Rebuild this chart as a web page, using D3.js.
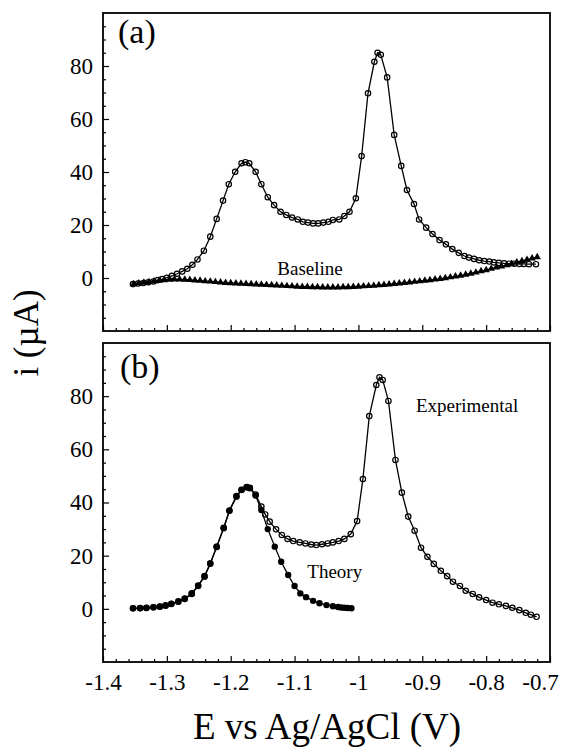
<!DOCTYPE html>
<html>
<head>
<meta charset="utf-8">
<script src="https://cdn.jsdelivr.net/npm/d3@7"></script>
<style>
  html, body { margin: 0; padding: 0; background: #fff; }
  svg { display: block; }
  svg text { font-family: "Liberation Serif", "Times New Roman", Times, serif; fill: #000; }
</style>
</head>
<body>
<svg id="chart" width="572" height="748"></svg>
<script>
// Panel (a): measured voltammogram and baseline
const aExpE = [-1.353,-1.345,-1.337,-1.329,-1.321,-1.314,-1.307,-1.300,-1.292,-1.284,-1.276,-1.268,-1.260,-1.252,-1.242,-1.232,-1.222,-1.212,-1.203,-1.193,-1.183,-1.177,-1.171,-1.161,-1.152,-1.142,-1.132,-1.122,-1.113,-1.104,-1.095,-1.087,-1.079,-1.071,-1.063,-1.055,-1.047,-1.040,-1.030,-1.022,-1.014,-1.004,-0.995,-0.985,-0.975,-0.970,-0.965,-0.955,-0.944,-0.933,-0.924,-0.913,-0.905,-0.894,-0.884,-0.873,-0.863,-0.853,-0.843,-0.834,-0.827,-0.819,-0.811,-0.803,-0.795,-0.788,-0.780,-0.772,-0.764,-0.756,-0.748,-0.741,-0.733,-0.722];
const aExpI = [-2.3,-2.1,-1.9,-1.6,-1.3,-0.8,-0.4,0.1,0.8,1.6,2.5,3.5,5.0,7.0,10.3,15.6,22.3,29.2,35.4,40.1,43.3,43.7,43.3,40.1,35.4,30.5,27.5,25.0,23.8,22.8,22.1,21.2,20.9,20.6,20.6,20.9,21.2,21.9,22.1,23.4,25.0,30.1,46.0,69.7,81.6,85.0,84.2,75.7,54.0,42.3,33.2,27.9,22.1,19.0,16.6,14.3,12.7,10.9,9.5,8.3,7.7,7.2,6.7,6.4,6.2,5.9,5.7,5.5,5.4,5.4,5.3,5.3,5.2,5.2];

const aBaseE = [-1.352,-1.344,-1.336,-1.328,-1.320,-1.312,-1.304,-1.296,-1.288,-1.280,-1.272,-1.264,-1.256,-1.248,-1.240,-1.232,-1.224,-1.216,-1.208,-1.200,-1.192,-1.184,-1.176,-1.168,-1.160,-1.152,-1.144,-1.136,-1.128,-1.120,-1.112,-1.104,-1.096,-1.088,-1.080,-1.072,-1.064,-1.056,-1.048,-1.040,-1.032,-1.024,-1.016,-1.008,-1.000,-0.992,-0.984,-0.976,-0.968,-0.960,-0.952,-0.944,-0.936,-0.928,-0.920,-0.912,-0.904,-0.896,-0.888,-0.880,-0.872,-0.864,-0.856,-0.848,-0.840,-0.832,-0.824,-0.816,-0.808,-0.800,-0.792,-0.784,-0.776,-0.768,-0.760,-0.752,-0.744,-0.736,-0.728,-0.720];
const aBaseI = [-2.3,-2.0,-1.7,-1.5,-1.2,-1.0,-0.8,-0.6,-0.5,-0.5,-0.6,-0.7,-0.9,-1.0,-1.2,-1.3,-1.5,-1.6,-1.8,-1.9,-2.0,-2.1,-2.2,-2.3,-2.4,-2.5,-2.6,-2.7,-2.8,-2.9,-3.0,-3.1,-3.2,-3.3,-3.3,-3.4,-3.4,-3.5,-3.5,-3.5,-3.5,-3.4,-3.4,-3.3,-3.2,-3.1,-3.0,-2.9,-2.7,-2.6,-2.4,-2.2,-2.0,-1.8,-1.6,-1.4,-1.2,-1.0,-0.8,-0.5,-0.3,0.0,0.3,0.6,0.9,1.3,1.7,2.1,2.6,3.0,3.5,4.0,4.4,4.9,5.4,5.9,6.4,6.9,7.4,7.9];

// Panel (b): baseline-corrected experiment and theoretical first peak
const bExpE = [-1.353,-1.342,-1.332,-1.321,-1.311,-1.302,-1.293,-1.282,-1.272,-1.261,-1.251,-1.241,-1.232,-1.222,-1.211,-1.202,-1.191,-1.183,-1.175,-1.170,-1.161,-1.152,-1.146,-1.139,-1.129,-1.120,-1.111,-1.102,-1.092,-1.083,-1.074,-1.066,-1.057,-1.048,-1.040,-1.031,-1.022,-1.012,-1.002,-0.993,-0.983,-0.972,-0.967,-0.962,-0.953,-0.942,-0.932,-0.922,-0.912,-0.902,-0.892,-0.882,-0.871,-0.861,-0.852,-0.841,-0.832,-0.821,-0.811,-0.800,-0.790,-0.780,-0.769,-0.759,-0.748,-0.738,-0.730,-0.721];
const bExpI = [0.2,0.3,0.4,0.6,0.9,1.3,1.9,2.8,3.9,5.8,8.8,12.3,17.0,23.3,30.5,37.0,42.4,44.8,45.8,45.5,43.0,38.5,35.5,32.8,29.9,27.8,26.3,25.5,25.0,24.6,24.2,24.0,24.3,24.6,25.0,25.5,26.3,28.1,33.0,48.8,72.5,84.2,87.1,86.1,78.2,56.0,43.7,34.7,29.4,23.0,19.6,16.9,14.3,12.3,10.2,8.6,6.8,5.6,4.3,3.3,2.3,1.7,1.1,0.4,-0.5,-1.5,-2.2,-3.0];

const bTheoryE = [-1.353,-1.342,-1.332,-1.321,-1.311,-1.302,-1.293,-1.282,-1.272,-1.261,-1.251,-1.241,-1.232,-1.222,-1.211,-1.202,-1.191,-1.183,-1.175,-1.170,-1.161,-1.152,-1.142,-1.131,-1.121,-1.110,-1.100,-1.091,-1.082,-1.071,-1.061,-1.050,-1.040,-1.032,-1.027,-1.022,-1.017,-1.011];
const bTheoryI = [0.2,0.2,0.3,0.6,0.8,1.2,1.8,2.7,3.7,5.6,8.6,12.1,17.1,23.4,30.3,36.9,42.2,44.7,45.7,45.4,42.6,37.2,30.0,23.4,17.7,12.7,8.6,5.8,4.4,3.0,2.1,1.4,1.0,0.7,0.5,0.4,0.3,0.2];

// Axis ticks
const xMajor = [-1.4,-1.3,-1.2,-1.1,-1.0,-0.9,-0.8,-0.7];
const xMinor = [-1.38,-1.36,-1.34,-1.32,-1.28,-1.26,-1.24,-1.22,-1.18,-1.16,-1.14,-1.12,-1.08,-1.06,-1.04,-1.02,-0.98,-0.96,-0.94,-0.92,-0.88,-0.86,-0.84,-0.82,-0.78,-0.76,-0.74,-0.72];
const xTickLabels = ["-1.4","-1.3","-1.2","-1.1","-1","-0.9","-0.8","-0.7"];
const yMajor = [0,20,40,60,80];
const yMinor = [-15,-10,-5,5,10,15,25,30,35,45,50,55,65,70,75,85,90,95];

const svg = d3.select("#chart");
const x = d3.scaleLinear().domain([-1.4, -0.7]).range([103, 550]);

const panels = [
  { tag: "(a)", top: 13, bottom: 331, showX: false, tagX: 118, tagY: 43 },
  { tag: "(b)", top: 343, bottom: 662, showX: true, tagX: 120, tagY: 378 }
];
panels.forEach(p => {
  p.y = d3.scaleLinear().domain([-20, 100]).range([p.bottom, p.top]);
});

const pts = (E, I) => E.map((e, i) => [e, I[i]]);

function styleAxis(sel) {
  sel.attr("font-family", null).attr("font-size", null);
  sel.select(".domain").remove();
  sel.selectAll(".tick line").attr("stroke", "#000").attr("stroke-width", 1.2);
  sel.selectAll(".tick text").style("font-size", "23px");
}

function drawAxes(p) {
  const g = svg.append("g");
  const y = p.y;
  const x0 = x.range()[0];
  // left axis, ticks pointing inward
  g.append("g").attr("transform", `translate(${x0},0)`)
    .call(d3.axisLeft(y).tickValues(yMajor).tickSize(-6).tickPadding(10).tickFormat(d3.format("d")))
    .call(styleAxis);
  g.append("g").attr("transform", `translate(${x0},0)`)
    .call(d3.axisLeft(y).tickValues(yMinor).tickSize(-3).tickFormat(""))
    .call(styleAxis);
  // bottom axis
  const xb = g.append("g").attr("transform", `translate(0,${p.bottom})`)
    .call(d3.axisBottom(x).tickValues(xMajor).tickSize(-6).tickPadding(12)
      .tickFormat((d, i) => p.showX ? xTickLabels[i] : ""))
    .call(styleAxis);
  g.append("g").attr("transform", `translate(0,${p.bottom})`)
    .call(d3.axisBottom(x).tickValues(xMinor).tickSize(-3).tickFormat(""))
    .call(styleAxis);
  xb.selectAll(".tick text").filter(d => d === -0.7).attr("dx", "-10");
  // frame
  g.append("rect")
    .attr("x", x0).attr("y", p.top)
    .attr("width", x.range()[1] - x0).attr("height", p.bottom - p.top)
    .attr("fill", "none").attr("stroke", "#000").attr("stroke-width", 1.8);
  // panel tag
  g.append("text").attr("x", p.tagX).attr("y", p.tagY)
    .style("font-size", "34px").text(p.tag);
}

function drawSeries(p, data, marker) {
  const y = p.y;
  const line = d3.line().x(d => x(d[0])).y(d => y(d[1]));
  const g = svg.append("g");
  g.append("path").datum(data).attr("d", line)
    .attr("fill", "none").attr("stroke", "#000").attr("stroke-width", 1.3);
  if (marker === "open") {
    g.selectAll("circle").data(data).join("circle")
      .attr("cx", d => x(d[0])).attr("cy", d => y(d[1])).attr("r", 2.7)
      .attr("fill", "none").attr("stroke", "#000").attr("stroke-width", 1.2);
  } else if (marker === "filled") {
    g.selectAll("circle").data(data).join("circle")
      .attr("cx", d => x(d[0])).attr("cy", d => y(d[1])).attr("r", 3.2)
      .attr("fill", "#000");
  } else if (marker === "triangle") {
    const tri = d3.symbol().type(d3.symbolTriangle).size(24);
    g.selectAll("path.m").data(data).join("path").attr("class", "m")
      .attr("transform", d => `translate(${x(d[0])},${y(d[1])})`)
      .attr("d", tri).attr("fill", "#000");
  }
}

const [pa, pb] = panels;
drawAxes(pa);
drawAxes(pb);

drawSeries(pa, pts(aBaseE, aBaseI), "triangle");
drawSeries(pa, pts(aExpE, aExpI), "open");
drawSeries(pb, pts(bExpE, bExpI), "open");
drawSeries(pb, pts(bTheoryE, bTheoryI), "filled");

// series labels
svg.append("text").attr("x", x(-1.127)).attr("y", pa.y(1.0)).style("font-size", "19px").text("Baseline");
svg.append("text").attr("x", x(-0.910)).attr("y", pb.y(74.2)).style("font-size", "19px").text("Experimental");
svg.append("text").attr("x", x(-1.080)).attr("y", pb.y(11.5)).style("font-size", "19px").text("Theory");

// axis titles
svg.append("text")
  .attr("transform", "translate(38,333) rotate(-90)")
  .attr("text-anchor", "middle")
  .style("font-size", "35px")
  .text("i (µA)");
svg.append("text")
  .attr("x", 327).attr("y", 739)
  .attr("text-anchor", "middle")
  .style("font-size", "37px")
  .text("E vs Ag/AgCl (V)");
</script>
</body>
</html>
